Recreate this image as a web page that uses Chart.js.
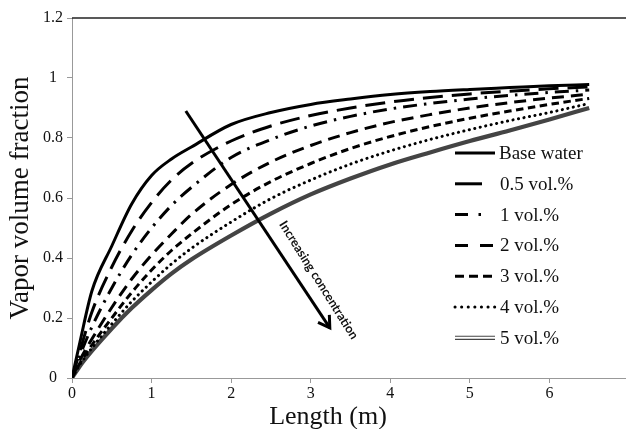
<!DOCTYPE html>
<html>
<head>
<meta charset="utf-8">
<script src="https://cdn.jsdelivr.net/npm/chart.js@4.4.1/dist/chart.umd.min.js"></script>
<style>
  html, body { margin: 0; padding: 0; background: #fff; overflow: hidden; }
  #wrap { width: 640px; height: 429px; }
</style>
</head>
<body>
<div id="wrap"><canvas id="vaporChart" width="640" height="429"></canvas></div>
<script>
// channel length (m)
const lengths = [0, 0.1, 0.25, 0.5, 0.75, 1, 1.25, 1.5, 2, 2.5, 3, 3.5, 4, 4.5, 5, 5.5, 6, 6.5];

// vapor volume fraction for each fluid
const baseWater = [0, 0.12, 0.29, 0.44, 0.58, 0.675, 0.73, 0.77, 0.845, 0.885, 0.912, 0.93, 0.945, 0.955, 0.962, 0.968, 0.974, 0.978];
const vol05 = [0, 0.09, 0.22, 0.37, 0.49, 0.585, 0.66, 0.715, 0.79, 0.84, 0.875, 0.9, 0.92, 0.935, 0.947, 0.956, 0.964, 0.97];
const vol1 = [0, 0.075, 0.17, 0.3, 0.41, 0.5, 0.575, 0.635, 0.735, 0.795, 0.84, 0.872, 0.897, 0.915, 0.93, 0.942, 0.952, 0.96];
const vol2 = [0, 0.06, 0.13, 0.235, 0.33, 0.41, 0.48, 0.545, 0.645, 0.72, 0.775, 0.818, 0.852, 0.878, 0.9, 0.918, 0.933, 0.946];
const vol3 = [0, 0.05, 0.11, 0.2, 0.285, 0.36, 0.425, 0.48, 0.578, 0.655, 0.715, 0.765, 0.805, 0.838, 0.866, 0.89, 0.912, 0.932];
const vol4 = [0, 0.045, 0.1, 0.18, 0.255, 0.32, 0.38, 0.432, 0.52, 0.598, 0.66, 0.713, 0.757, 0.795, 0.828, 0.858, 0.885, 0.915];
const vol5 = [0, 0.04, 0.09, 0.165, 0.233, 0.293, 0.348, 0.395, 0.475, 0.548, 0.612, 0.665, 0.712, 0.752, 0.79, 0.825, 0.862, 0.9];

const seriesLabels = ['Base water', '0.5 vol.%', '1 vol.%', '2 vol.%', '3 vol.%', '4 vol.%', '5 vol.%'];
const seriesValues = [baseWater, vol05, vol1, vol2, vol3, vol4, vol5];

const xTicks = [0, 1, 2, 3, 4, 5, 6, 7];
const yTicks = [0, 0.2, 0.4, 0.6, 0.8, 1, 1.2];

const serif = '"Liberation Serif", "Times New Roman", serif';

// line look of every curve; legendDash is the pattern used in the key
const lineStyles = [
    { borderDash: [], legendDash: [], borderWidth: 3 },
    { borderDash: [20, 9], legendDash: [27, 20], borderWidth: 3 },
    { borderDash: [14, 7, 2.5, 7], legendDash: [13, 10.5, 2.5, 20], borderWidth: 3 },
    { borderDash: [12, 7], legendDash: [13, 12], borderWidth: 3 },
    { borderDash: [7.5, 4.5], legendDash: [9, 5], borderWidth: 3 },
    { borderDash: [0.1, 5.5], legendDash: [0.1, 6.5], borderWidth: 3, borderCapStyle: 'round' },
    { borderDash: [], legendDash: [], borderWidth: 4.2, borderColor: '#444', inner: true }
];

const innerWidth = 2;

function toPoints(values) {
    return lengths.map((x, i) => ({ x: x, y: values[i] }));
}

const datasets = seriesValues.map((values, i) => ({
    label: seriesLabels[i],
    data: toPoints(values),
    borderColor: lineStyles[i].borderColor || '#000',
    borderWidth: lineStyles[i].borderWidth,
    borderDash: lineStyles[i].borderDash,
    borderCapStyle: lineStyles[i].borderCapStyle || 'butt',
    pointRadius: 0,
    fill: false,
    cubicInterpolationMode: 'monotone',
}));

// white core that turns the 5 vol.% curve into a double line
datasets.push({
    label: '',
    data: toPoints(vol5),
    borderColor: '#fff',
    borderWidth: innerWidth,
    pointRadius: 0,
    fill: false,
    cubicInterpolationMode: 'monotone',
});

// arrow across the curves, in data units
const arrowFrom = { x: 1.43, y: 0.89 };
const arrowTo = { x: 3.24, y: 0.167 };
const arrowText = 'Increasing concentration';
const arrowTextAt = { x: 3.1, y: 0.326 };

const overlay = {
    id: 'overlay',
    afterDraw(chart) {
        const ctx = chart.ctx;
        const xs = chart.scales.x;
        const ys = chart.scales.y;
        const area = chart.chartArea;
        ctx.save();

        // top frame line
        ctx.strokeStyle = '#222';
        ctx.lineWidth = 1.5;
        ctx.beginPath();
        ctx.moveTo(area.left, area.top);
        ctx.lineTo(area.right + 2, area.top);
        ctx.stroke();

        // arrow
        const x1 = xs.getPixelForValue(arrowFrom.x), y1 = ys.getPixelForValue(arrowFrom.y);
        const x2 = xs.getPixelForValue(arrowTo.x), y2 = ys.getPixelForValue(arrowTo.y);
        const ang = Math.atan2(y2 - y1, x2 - x1);
        ctx.strokeStyle = '#000';
        ctx.lineWidth = 3;
        ctx.lineCap = 'butt';
        ctx.beginPath();
        ctx.moveTo(x1, y1);
        ctx.lineTo(x2, y2);
        ctx.stroke();
        ctx.lineJoin = 'miter';
        ctx.beginPath();
        ctx.moveTo(x2 - 13 * Math.cos(ang - 0.55), y2 - 13 * Math.sin(ang - 0.55));
        ctx.lineTo(x2, y2);
        ctx.lineTo(x2 - 13 * Math.cos(ang + 0.55), y2 - 13 * Math.sin(ang + 0.55));
        ctx.stroke();

        // arrow caption
        ctx.save();
        ctx.translate(xs.getPixelForValue(arrowTextAt.x), ys.getPixelForValue(arrowTextAt.y));
        ctx.rotate(ang + 0.025);
        ctx.font = 'bold 12.5px Lato, "Open Sans", sans-serif';
        ctx.fillStyle = '#111';
        ctx.textAlign = 'center';
        ctx.textBaseline = 'middle';
        ctx.fillText(arrowText, 0, 0);
        ctx.restore();

        // legend
        const lx = 455, tx = 499, top = 153, step = 30.8;
        ctx.font = '19px ' + serif;
        ctx.textAlign = 'left';
        ctx.textBaseline = 'middle';
        seriesLabels.forEach((label, i) => {
            const st = lineStyles[i];
            const y = top + i * step;
            ctx.save();
            ctx.strokeStyle = st.borderColor || '#000';
            ctx.lineWidth = st.borderWidth;
            ctx.lineCap = st.borderCapStyle || 'butt';
            ctx.setLineDash(st.legendDash);
            ctx.beginPath();
            ctx.moveTo(lx, y);
            ctx.lineTo(lx + 40, y);
            ctx.stroke();
            if (st.inner) {
                ctx.strokeStyle = '#fff';
                ctx.lineWidth = innerWidth;
                ctx.beginPath();
                ctx.moveTo(lx, y);
                ctx.lineTo(lx + 40, y);
                ctx.stroke();
            }
            ctx.restore();
            ctx.fillStyle = '#111';
            ctx.fillText(label, i === 0 ? tx : tx + 1, y + 1);
        });

        // x axis title
        ctx.font = '26px ' + serif;
        ctx.textAlign = 'center';
        ctx.textBaseline = 'alphabetic';
        ctx.fillStyle = '#111';
        ctx.fillText('Length (m)', 328, 424);

        ctx.restore();
    }
};

const ctx = document.getElementById('vaporChart').getContext('2d');
new Chart(ctx, {
    type: 'line',
    data: { datasets: datasets },
    options: {
        responsive: false,
        animation: false,
        devicePixelRatio: 1,
        layout: { padding: { top: 18, right: 11, left: 0, bottom: 0 } },
        plugins: {
            legend: { display: false },
            tooltip: { enabled: false },
        },
        scales: {
            x: {
                type: 'linear',
                min: xTicks[0],
                max: xTicks[xTicks.length - 1],
                afterFit: scale => { scale.height = 51; },
                afterBuildTicks: scale => { scale.ticks = xTicks.map(v => ({ value: v })); },
                ticks: {
                    color: '#111',
                    font: { family: serif, size: 16 },
                    padding: 1,
                    maxRotation: 0,
                },
                grid: { drawOnChartArea: false, tickLength: 5, color: '#999' },
                border: { color: '#999' },
            },
            y: {
                type: 'linear',
                min: yTicks[0],
                max: yTicks[yTicks.length - 1],
                afterFit: scale => { scale.width = 72; },
                afterBuildTicks: scale => { scale.ticks = yTicks.map(v => ({ value: v })); },
                ticks: {
                    color: '#111',
                    font: { family: serif, size: 16 },
                    padding: 4,
                    crossAlign: 'center',
                    callback: v => String(Number(v.toFixed(1))),
                },
                grid: { drawOnChartArea: false, tickLength: 5, color: '#999' },
                border: { color: '#999' },
                title: {
                    display: true,
                    text: 'Vapor volume fraction',
                    color: '#111',
                    font: { family: serif, size: 27 },
                    padding: { top: 5, bottom: 0 },
                },
            },
        },
    },
    plugins: [overlay],
});
</script>
</body>
</html>
